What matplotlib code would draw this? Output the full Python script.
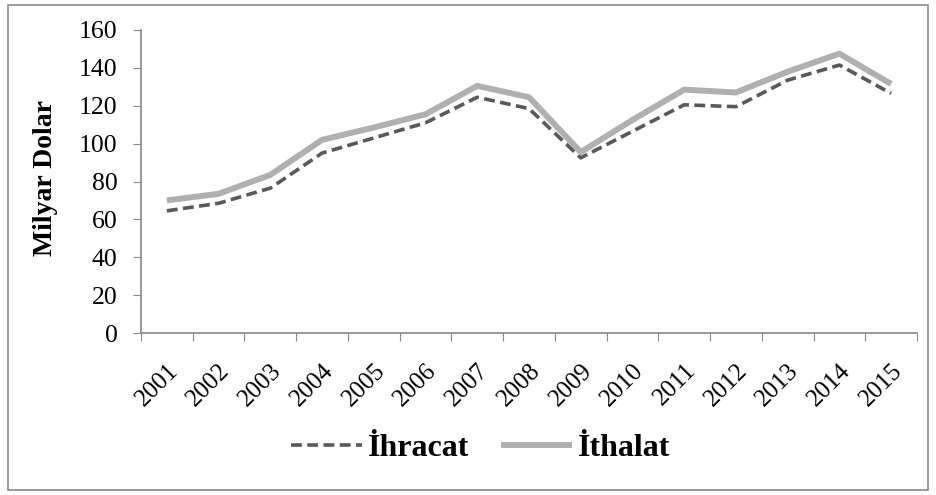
import numpy as np
import matplotlib
matplotlib.use('Agg')
import matplotlib.pyplot as plt
from matplotlib.patches import Rectangle

years = [str(y) for y in range(2001, 2016)]
ihracat = [64.5, 68.5, 76.5, 95, 103, 111, 124.5, 118.5, 92.5, 106.5, 120.5, 119.5, 133.5, 141.5, 126.5]
ithalat = [70, 73.5, 83.5, 102, 108.5, 115.5, 130.5, 124.5, 95.5, 112.5, 128.5, 127, 138, 147.5, 131.5]

plt.rcParams['font.family'] = ['Liberation Serif', 'DejaVu Serif']

W, H = 936, 495
fig = plt.figure(figsize=(W / 100, H / 100), dpi=100)
ax = fig.add_axes([141 / W, 1 - 333 / H, (917 - 141) / W, (333 - 30) / H])

x = np.arange(len(years))
ax.plot(x, ihracat, color='#595959', lw=2.6, ls=(0, (3, 1.5)), label='İhracat')
ax.plot(x, ithalat, color='#b0b0b0', lw=4.3, solid_capstyle='butt', label='İthalat')

ax.set_xlim(-0.5, len(years) - 0.5)
ax.set_ylim(0, 160)
ax.set_yticks(range(0, 161, 20))
ax.set_yticklabels([str(v) for v in range(0, 161, 20)], fontsize=18.5)

# category ticks on boundaries, labels at centers
ax.set_xticks(np.arange(-0.5, len(years), 1.0))
ax.set_xticklabels([])
ax.set_xticks(x, minor=True)
ax.set_xticklabels(years, minor=True, rotation=45, ha='right', va='top',
                   rotation_mode='anchor', fontsize=18)
ax.tick_params(axis='x', which='minor', length=0, pad=19)
ax.tick_params(axis='x', which='major', length=6, color='#888888', direction='out')
ax.tick_params(axis='y', length=6, color='#888888', direction='out', pad=11)

for s in ['top', 'right']:
    ax.spines[s].set_visible(False)
for s in ['left', 'bottom']:
    ax.spines[s].set_color('#888888')
    ax.spines[s].set_linewidth(1.2)

ax.set_ylabel('Milyar Dolar', fontsize=20, fontweight='bold')
ax.yaxis.set_label_coords(58 / W - 141 / W, 0.5, transform=fig.transFigure)
ax.yaxis.label.set_position((58 / W, 1 - 178 / H))

fig.legend(loc='center', bbox_to_anchor=(481 / W, 1 - 448 / H), ncol=2, frameon=False,
           prop={'size': 23, 'weight': 'bold'}, handlelength=2.2,
           columnspacing=1.0, handletextpad=0.2)

fig.patches.append(Rectangle((8 / W, 5 / H), 920 / W, 485 / H,
                             transform=fig.transFigure, fill=False,
                             edgecolor='#888888', lw=1.2))

fig.savefig('out.png', dpi=100)
